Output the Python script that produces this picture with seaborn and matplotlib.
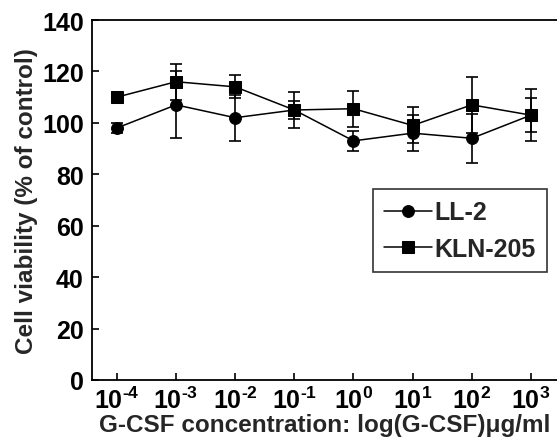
import pandas as pd
import numpy as np
import matplotlib
matplotlib.use("Agg")
import matplotlib.pyplot as plt
import seaborn as sns

# concentrations (log10 ug/ml) and viability (% of control)
exponents = [-4, -3, -2, -1, 0, 1, 2, 3]
ll2_mean = [98, 107, 102, 105, 93, 96, 94, 103]
ll2_err = [2, 13, 9, 7, 4, 7, 9.5, 10]
kln_mean = [110, 116, 114, 105, 105.5, 99, 107, 103]
kln_err = [0, 7, 4.5, 3.5, 7, 7, 11, 6.5]

sns.set_style("ticks")
plt.rcParams["font.family"] = ["Liberation Sans", "DejaVu Sans"]
plt.rcParams["font.weight"] = "bold"
plt.rcParams["mathtext.fontset"] = "custom"
plt.rcParams["mathtext.bf"] = "Liberation Sans:bold"
plt.rcParams["mathtext.rm"] = "Liberation Sans:bold"

pos = list(range(len(exponents)))
df = pd.concat([
    pd.DataFrame({"pos": pos, "value": ll2_mean, "err": ll2_err, "line": "LL-2"}),
    pd.DataFrame({"pos": pos, "value": kln_mean, "err": kln_err, "line": "KLN-205"}),
])

fig = plt.figure(figsize=(5.57, 4.39), dpi=100)
ax = fig.add_axes([92 / 557, 1 - 381 / 439, 1 - 92 / 557, (381 - 21) / 439])

for name, sub in df.groupby("line", sort=False):
    ax.errorbar(sub["pos"], sub["value"], yerr=sub["err"], fmt="none",
                ecolor="black", elinewidth=1.2, capsize=4.5, capthick=1.2, zorder=2)

sns.lineplot(data=df, x="pos", y="value", style="line", markers={"LL-2": "o", "KLN-205": "s"},
             dashes=False, color="black", linewidth=1.1, markersize=8.5,
             markeredgecolor="black", ax=ax, zorder=3)

ax.set_xlim(-0.42, 7.44)
ax.set_ylim(0, 140)
ax.set_yticks(range(0, 141, 20))
ax.set_xticks(pos)
ax.set_xticklabels([r"$\mathbf{10^{\text{%s}}}$" % (("-%d" % -e) if e < 0 else "%d" % e) for e in exponents])
ax.tick_params(direction="in", length=5, width=1.2, labelsize=18, pad=6, colors="black")
ax.tick_params(axis="x", pad=5)
for lbl in ax.get_yticklabels():
    lbl.set_fontweight("bold")
for s in ["left", "bottom", "top"]:
    ax.spines[s].set_linewidth(1.3)
    ax.spines[s].set_color("black")
ax.spines["right"].set_visible(False)

ax.set_xlabel("G-CSF concentration: log(G-CSF)\u03bcg/ml", fontsize=17.5, fontweight="bold", labelpad=0)
ax.set_ylabel("Cell viability (% of control)", fontsize=17.5, fontweight="bold", labelpad=3)

leg = ax.legend(loc="upper left", bbox_to_anchor=(373 / 557, 1 - 190 / 439), bbox_transform=fig.transFigure,
                fontsize=18, frameon=True, fancybox=False, handlelength=1.9, handletextpad=0.1,
                borderpad=0.45, labelspacing=0.5, borderaxespad=0)
leg.get_frame().set_edgecolor("black")
leg.get_frame().set_linewidth(1.2)
for t in leg.get_texts():
    t.set_fontweight("bold")

fig.savefig("out.png", dpi=100)
